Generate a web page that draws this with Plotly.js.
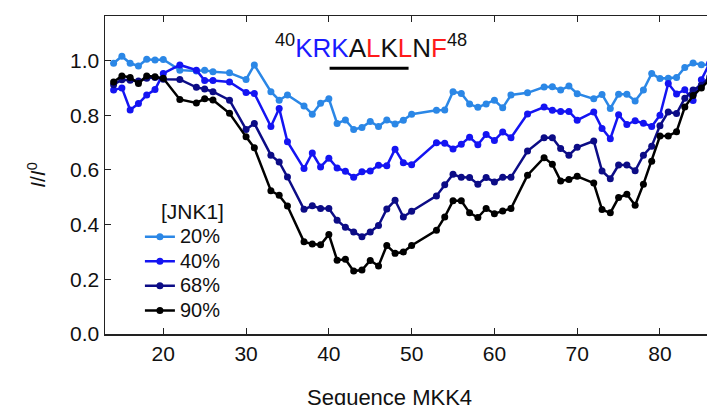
<!DOCTYPE html>
<html>
<head>
<meta charset="utf-8">
<script src="https://cdn.plot.ly/plotly-3.0.1.min.js"></script>
<style>html,body{margin:0;padding:0;background:#fff;}#chart{width:707px;height:405px;}</style>
</head>
<body>
<div id="chart"></div>
<script>
const residues = [14,15,16,17,18,19,20,22,24,25,26,28,30,31,33,34,35,37,38,39,40,41,42,43,44,45,46,47,48,49,50,53,54,55,56,57,58,59,60,61,62,64,66,67,68,69,70,72,73,74,75,76,77,78,79,80,81,82,83,84,85,86];

const jnk20 = [0.990,1.016,0.990,0.980,1.005,1.002,1.004,
  0.965,0.962,0.965,0.959,0.955,
  0.931,0.984,0.886,0.855,0.874,
  0.834,0.804,0.844,0.860,0.770,0.783,0.748,0.755,0.777,0.759,0.783,0.768,0.782,0.804,
  0.818,0.819,0.886,0.880,0.841,0.829,0.841,0.855,0.827,0.874,
  0.882,0.903,0.904,0.892,0.907,0.879,
  0.860,0.876,0.825,0.877,0.877,0.852,0.892,0.953,0.934,0.935,0.938,0.975,0.991,0.985,0.985];

const jnk40 = [0.892,0.900,0.819,0.843,0.874,0.894,0.953,
  0.984,0.965,0.927,0.927,0.922,
  0.883,0.880,0.759,0.825,0.703,
  0.605,0.662,0.611,0.643,0.607,0.595,0.573,0.593,0.596,0.617,0.615,0.676,0.626,0.619,
  0.699,0.698,0.677,0.694,0.720,0.692,0.730,0.708,0.739,0.718,
  0.805,0.830,0.818,0.814,0.814,0.782,
  0.812,0.752,0.714,0.802,0.766,0.780,0.771,0.759,0.800,0.916,0.878,0.893,0.854,0.930,0.990];

const jnk68 = [0.912,0.930,0.928,0.925,0.935,0.938,0.932,
  0.931,0.902,0.896,0.886,0.855,
  0.748,0.770,0.654,0.629,0.574,
  0.456,0.469,0.459,0.459,0.416,0.390,0.373,0.356,0.373,0.397,0.457,0.489,0.428,0.449,
  0.505,0.546,0.584,0.573,0.572,0.548,0.572,0.556,0.573,0.573,
  0.669,0.718,0.718,0.678,0.654,0.683,
  0.706,0.596,0.568,0.618,0.618,0.597,0.654,0.687,0.762,0.812,0.806,0.862,0.892,0.910,0.940];

const jnk90 = [0.922,0.944,0.938,0.916,0.944,0.941,0.935,
  0.858,0.845,0.860,0.856,0.807,
  0.721,0.681,0.524,0.507,0.468,
  0.337,0.329,0.326,0.364,0.270,0.273,0.230,0.234,0.269,0.249,0.324,0.295,0.300,0.324,
  0.379,0.428,0.487,0.487,0.443,0.426,0.459,0.440,0.450,0.459,
  0.581,0.645,0.621,0.560,0.565,0.577,
  0.552,0.455,0.443,0.499,0.511,0.471,0.548,0.632,0.724,0.724,0.740,0.830,0.872,0.900,0.930];

const seriesNames = ['20%','40%','68%','90%'];
const seriesValues = [jnk20, jnk40, jnk68, jnk90];
const seriesColors = ['#2b87e6','#1414f2','#0c0c86','#000000'];

const FONT = 'Liberation Sans, Arial, Helvetica, sans-serif';

const traces = seriesValues.map((v, i) => ({
  x: residues, y: v, name: '<span style="font-size:20px">' + seriesNames[i] + '</span>',
  type: 'scatter', mode: 'lines+markers',
  line: {color: seriesColors[i], width: 2.5},
  marker: {color: seriesColors[i], size: 7}
}));

const layout = {
  width: 707, height: 405,
  margin: {l: 105, r: 0, t: 16, b: 71},
  paper_bgcolor: '#fff', plot_bgcolor: '#fff',
  font: {family: FONT, size: 20, color: '#111'},
  showlegend: true,
  legend: {
    x: 0.058, y: 0.438, xanchor: 'left', yanchor: 'top',
    bgcolor: 'rgba(0,0,0,0)', borderwidth: 0,
    font: {family: FONT, size: 16.6, color: '#111'},
    title: {text: '<span style="font-size:21px">[JNK1]</span>', side: 'top right', font: {family: FONT, size: 19, color: '#111'}},
    tracegroupgap: 0
  },
  xaxis: {
    range: [12.96, 85.68], tickvals: [20,30,40,50,60,70,80],
    ticks: 'inside', ticklen: 6, tickwidth: 1, tickcolor: '#222',
    showline: true, linecolor: '#222', linewidth: 1.5, mirror: 'ticks',
    showgrid: false, zeroline: false,
    tickfont: {family: FONT, size: 21, color: '#111'}
  },
  yaxis: {
    range: [0, 1.163], tickvals: [0,0.2,0.4,0.6,0.8,1.0], tickformat: '.1f',
    ticks: 'inside', ticklen: 6, tickwidth: 1, tickcolor: '#222',
    showline: true, linecolor: '#222', linewidth: 1.5, mirror: false,
    showgrid: false, zeroline: false,
    tickfont: {family: FONT, size: 21, color: '#111'},
    title: {text: '<i>I</i>/<i>I</i><sup>0</sup>', font: {family: FONT, size: 21, color: '#111'}, standoff: 18}
  },
  annotations: [
    {xref: 'x', yref: 'y', x: 45.1, y: 1.053, xanchor: 'center', yanchor: 'middle', showarrow: false,
     text: '<sup>40</sup><span style="color:#1a1aff">KRK</span>A<span style="color:#ff1a1a">L</span>K<span style="color:#ff1a1a">L</span>N<span style="color:#ff1a1a">F</span><sup>48</sup>',
     font: {family: FONT, size: 26, color: '#111'}},
    {xref: 'paper', yref: 'paper', x: 0.472, y: -0.2, xanchor: 'center', yanchor: 'middle', showarrow: false,
     text: 'Sequence MKK4', font: {family: FONT, size: 22, color: '#111'}}
  ],
  shapes: [
    {type: 'line', xref: 'x', yref: 'y', x0: 40.09, x1: 49.63, y0: 0.972, y1: 0.972,
     line: {color: '#000', width: 3}}
  ]
};

Plotly.newPlot('chart', traces, layout, {staticPlot: true, displayModeBar: false});
</script>
</body>
</html>
